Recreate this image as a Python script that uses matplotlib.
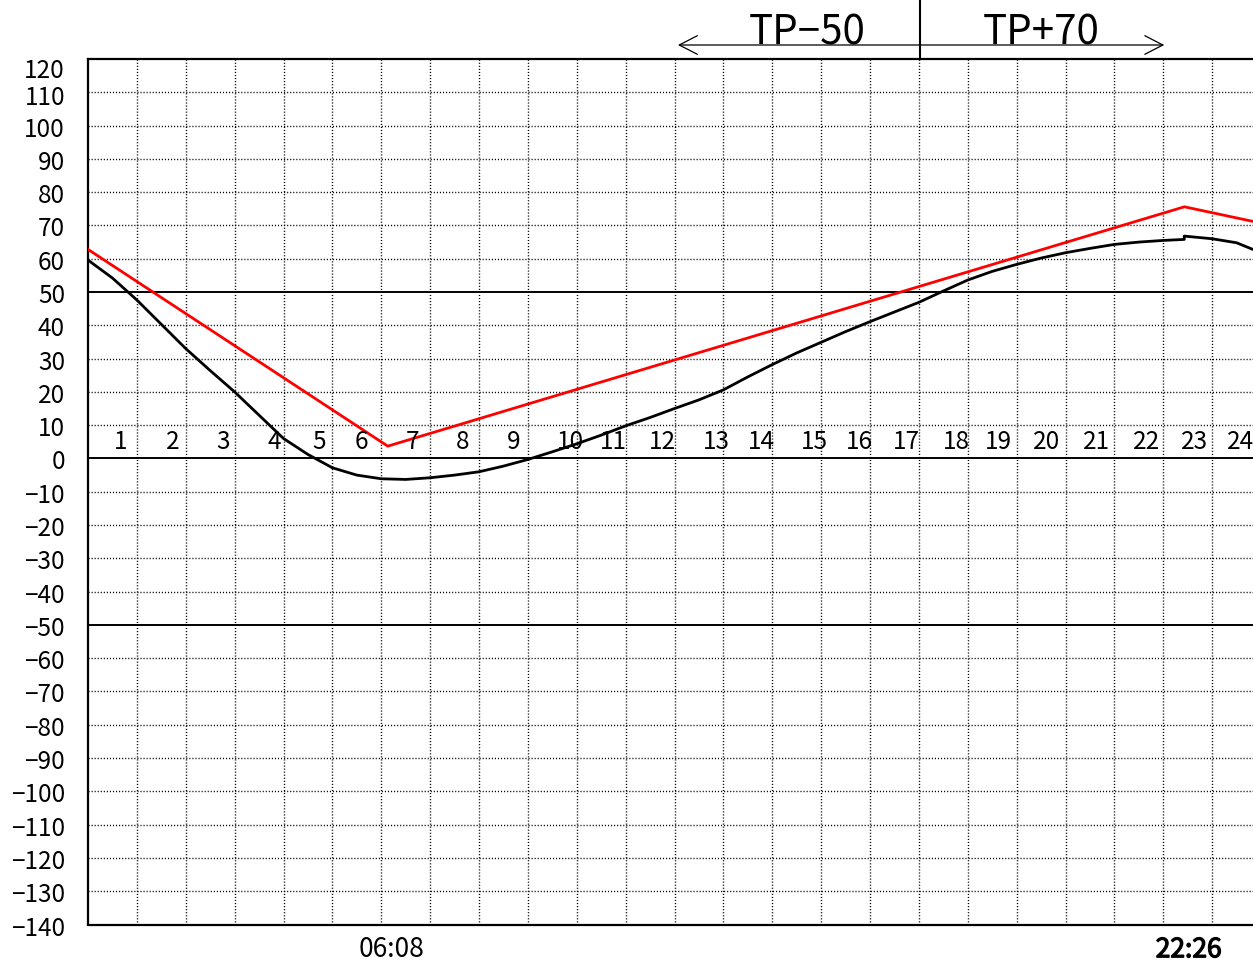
import matplotlib
matplotlib.use("Agg")
import matplotlib.pyplot as plt
from matplotlib import transforms
from matplotlib.patches import ArrowStyle
import matplotlib.patheffects as pe

plt.rcParams['font.family'] = ['Noto Sans CJK JP', 'DejaVu Sans']
plt.rcParams['lines.scale_dashes'] = False

# ---- data ----
black_hours = [0, 0.5, 1, 1.5, 2, 2.5, 3, 3.5, 4, 4.5, 5, 5.5, 6, 6.5, 7, 7.5, 8, 8.5,
               9, 9.5, 10, 10.5, 11, 11.5, 12, 12.5, 13, 13.5, 14, 14.5, 15, 15.5,
               16, 16.5, 17, 17.5, 18, 18.5, 19, 19.5, 20, 20.5, 21, 21.5, 22,
               22.43, 22.43, 23, 23.5, 24]
black_values = [59.6, 54.2, 47.6, 40.3, 33.0, 26.4, 20.0, 13.0, 6.0, 1.2, -2.8, -5.0,
                -6.1, -6.3, -5.8, -5.0, -4.0, -2.3, -0.3, 2.0, 4.4, 7.0, 9.8, 12.3,
                15.0, 17.6, 20.6, 24.5, 28.2, 31.7, 34.9, 38.1, 41.1, 44.0, 46.9,
                50.3, 53.6, 56.2, 58.3, 60.2, 61.8, 63.1, 64.3, 65.0, 65.5,
                65.8, 66.8, 66.0, 64.8, 61.8]

red_hours = [0, 6.133, 22.433, 24]
red_values = [62.8, 3.7, 75.6, 70.7]

y_ticks = list(range(-140, 121, 10))
hour_labels = [str(h) for h in range(1, 25)]
hour_label_pos = [0.67, 1.74, 2.76, 3.81, 4.72, 5.60, 6.64, 7.66, 8.70, 9.87, 10.74,
                  11.76, 12.86, 13.78, 14.87, 15.79, 16.75, 17.76, 18.62, 19.61,
                  20.63, 21.65, 22.64, 23.59]
time_labels = ["06:08", "22:26"]
time_label_pos = [6.133, 22.433]
tp_labels = ["TP\u221250", "TP+70"]
tp_label_pos = [14.71, 19.51]
tp_split = 17.03
tp_arrow_left = 12.07
tp_arrow_right = 22.02

# ---- figure ----
W, H = 1253, 963
fig = plt.figure(figsize=(W / 100, H / 100), dpi=100)
ax_l, ax_r, ax_t, ax_b = 88, 1261, 59, 924.5
ax = fig.add_axes([ax_l / W, 1 - ax_b / H, (ax_r - ax_l) / W, (ax_b - ax_t) / H])
ax.set_xlim(0, 24)
ax.set_ylim(-140, 120)

# grid
dot = (0, (0.8, 1.4))
for h in range(1, 24):
    ax.axvline(h, color='black', lw=1.0, linestyle=dot, zorder=1)
for v in y_ticks:
    if v in (0, 50, -50):
        ax.axhline(v, color='black', lw=1.4, zorder=1.5)
    elif -140 < v < 120:
        ax.axhline(v, color='black', lw=1.0, linestyle=dot, zorder=1)

# spines
for s in ('left', 'top', 'bottom'):
    ax.spines[s].set_linewidth(1.6)
ax.spines['right'].set_visible(False)
ax.set_xticks([])
ax.set_yticks([])

# curves
ax.plot(black_hours, black_values, color='black', lw=2.0, zorder=3,
        solid_joinstyle='round')
ax.plot(red_hours, red_values, color='#ff0000', lw=2.0, zorder=3)

# y labels
nudge = {120: 9, 110: 2.5}
for v in y_ticks:
    lbl = str(v).replace('-', '\u2212')
    ax.annotate(lbl, xy=(0, v), xycoords=('axes fraction', 'data'),
                xytext=(-16.5, -(nudge.get(v, 1)) * 0.72), textcoords='offset points',
                ha='right', va='center_baseline', fontsize=17.5)

# hour labels
for lbl, p in zip(hour_labels, hour_label_pos):
    ax.text(p, 5.7, lbl, ha='center', va='center_baseline', fontsize=17.5, zorder=4)

# bottom time labels
for i, (lbl, p) in enumerate(zip(time_labels, time_label_pos)):
    t = ax.annotate(lbl, xy=(p, 0), xycoords=('data', 'axes fraction'),
                    xytext=(3, -16), textcoords='offset points',
                    ha='center', va='center_baseline', fontsize=19,
                    annotation_clip=False)
    if i == 1:
        t.set_path_effects([pe.withStroke(linewidth=0.9, foreground='black')])

# top annotation
blend = transforms.blended_transform_factory(ax.transData, ax.transAxes)
axh = ax_b - ax_t
y_arrow = 1 + (ax_t - 45) / axh
y_top = 1 + ax_t / axh
ax.plot([tp_split, tp_split], [1, y_top], transform=blend, color='black',
        lw=1.5, clip_on=False)
style = ArrowStyle('->', head_length=1.3, head_width=0.67)
for end in (tp_arrow_left, tp_arrow_right):
    ax.annotate('', xy=(end, y_arrow), xytext=(tp_split, y_arrow),
                xycoords=blend, textcoords=blend,
                arrowprops=dict(arrowstyle=style, lw=0.9, color='black',
                                shrinkA=0, shrinkB=0, mutation_scale=10),
                annotation_clip=False)
for lbl, p in zip(tp_labels, tp_label_pos):
    ax.text(p, y_arrow, lbl, transform=blend, ha='center', va='baseline',
            fontsize=29, clip_on=False)

fig.savefig('out.png', dpi=100)
